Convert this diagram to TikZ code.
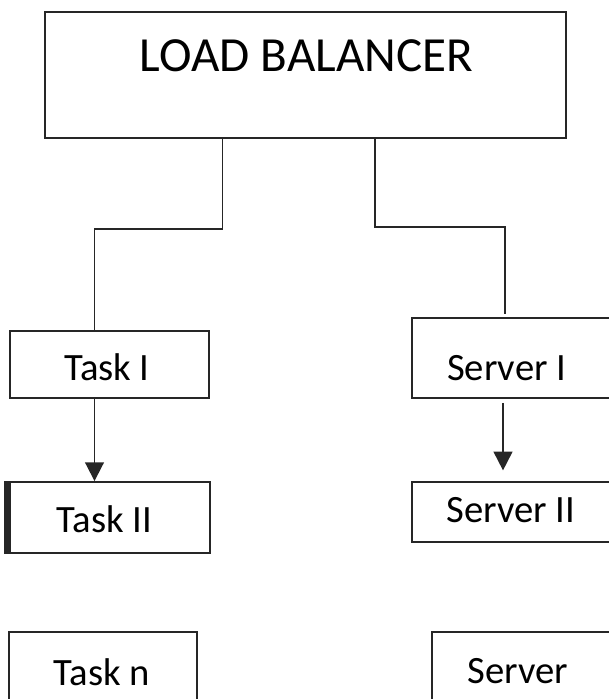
\documentclass[tikz,border=0pt]{standalone}
\usepackage{fontspec}
\setmainfont{Carlito}
\usetikzlibrary{arrows.meta,fit}
\colorlet{box edge}{black!85}
\tikzset{box/.style={draw=box edge, line width=1.4pt, inner sep=0pt},
    link/.style={draw=box edge, line width=1.4pt},
    flow/.style={link, -{Triangle[length=14pt,width=14pt]}},
    big/.style={font=\fontsize{36.8}{44}\selectfont, inner sep=0pt, anchor=base},
    small/.style={font=\fontsize{29}{34}\selectfont, inner sep=0pt, anchor=base}}

\begin{document}
\begin{tikzpicture}[x=0.75pt,y=-0.75pt]
    \useasboundingbox (0,0) rectangle (609,699);
    \clip (0,0) rectangle (609,699);
    % box corners
    \coordinate (lb1) at (45,12);    \coordinate (lb2) at (566,138);
    \coordinate (t1a) at (10,331);   \coordinate (t1b) at (209,398);
    \coordinate (t2a) at (10,482);   \coordinate (t2b) at (210,553);
    \coordinate (tna) at (9,632);    \coordinate (tnb) at (197,720);
    \coordinate (s1a) at (412,318);  \coordinate (s1b) at (700,398);
    \coordinate (s2a) at (412,482);  \coordinate (s2b) at (700,542);
    \coordinate (sna) at (432,632);  \coordinate (snb) at (700,720);

    \node[box, fit=(lb1)(lb2)] (lb) {};
    \node[box, fit=(t1a)(t1b)] (task1) {};
    \node[box, fit=(t2a)(t2b)] (task2) {};
    \node[box, fit=(tna)(tnb)] (taskn) {};
    \node[box, fit=(s1a)(s1b)] (srv1) {};
    \node[box, fit=(s2a)(s2b)] (srv2) {};
    \node[box, fit=(sna)(snb)] (srvn) {};
    \draw[box edge, line width=3.6pt] ([xshift=-2pt]task2.north west) -- ([xshift=-2pt]task2.south west);

    \node[big]   (lbtext) at (306.5,71) {LOAD BALANCER};
    \node[small] (t1text) at (107,380)  {Task I};
    \node[small] (t2text) at (104.5,532) {Task II};
    \node[small] (tntext) at (102,685)  {Task n};
    \node[small] (s1text) at (506.7,380) {Server I};
    \node[small] (s2text) at (511,522)  {Server II};
    \node[small] (sntext) at (518,683)  {Server};

    % bends of the connectors
    \coordinate (lsplit) at (222.5,229);
    \coordinate (lend)   at (94.5,229);
    \coordinate (rsplit) at (375,227);
    \coordinate (rend)   at (505,227);
    \coordinate (rarr)   at (503,440);

    \draw[link] (lb.south -| lsplit) -- (lsplit) -- (lend) -- (lend |- task1.north);
    \draw[link] (lb.south -| rsplit) -- (rsplit) -- (rend) -- ([yshift=2.2pt]rend |- srv1.north);
    \draw[flow] (task1.south -| lend) -- (task2.north -| lend);
    \draw[flow] ([yshift=-3pt]srv1.south -| rarr) -- ([yshift=8pt]srv2.north -| rarr);
\end{tikzpicture}
\end{document}
